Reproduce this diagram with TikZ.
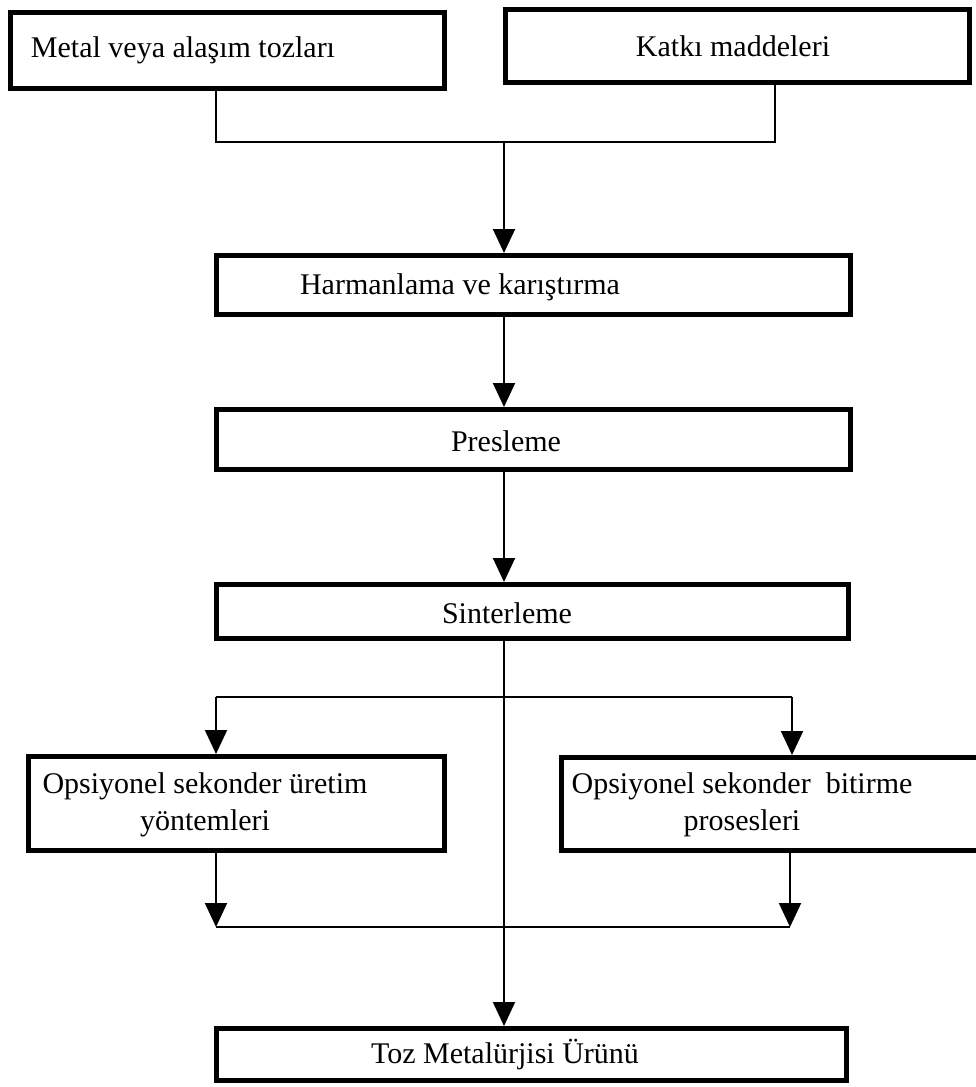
\documentclass[tikz,border=0pt]{standalone}
\usepackage{fontspec}
\setmainfont{Liberation Serif}
\usetikzlibrary{arrows.meta}
\begin{document}
\begin{tikzpicture}[x=1pt,y=-1pt,
  boxst/.style={draw=black,line width=5pt,inner sep=0pt,anchor=center},
  lbl/.style={font=\fontsize{30}{37}\selectfont,inner sep=0pt,align=center,anchor=center},
  conn/.style={draw=black,line width=2pt},
  arr/.style={conn,-{Triangle[width=22pt,length=24pt]}}]
\useasboundingbox (0,0) rectangle (976,1087);
% boxes
\node[boxst,minimum width=434pt,minimum height=76pt] (b1) at (227.5,50.5) {};
\node[boxst,minimum width=464pt,minimum height=73pt] (b2) at (737.5,46) {};
\node[boxst,minimum width=634pt,minimum height=59pt] (b3) at (533.5,285) {};
\node[boxst,minimum width=634pt,minimum height=60pt] (b4) at (533.5,439.5) {};
\node[boxst,minimum width=632pt,minimum height=54pt] (b5) at (532.5,611.5) {};
\node[boxst,minimum width=416pt,minimum height=94pt] (b6) at (236.5,803.5) {};
\node[boxst,minimum width=421pt,minimum height=93pt] (b7) at (772,804) {};
\node[boxst,minimum width=630pt,minimum height=52pt] (b8) at (531.5,1054.5) {};
% labels
\node[lbl] (t1) at (183,50) {Metal veya alaşım tozları};
\node[lbl] (t2) at (733,46) {Katkı maddeleri};
\node[lbl] (t3) at (460,287) {Harmanlama ve karıştırma};
\node[lbl] (t4) at (506,441) {Presleme};
\node[lbl] (t5) at (507,613) {Sinterleme};
\node[lbl] (t6) at (205,805) {Opsiyonel sekonder üretim\\yöntemleri};
\node[lbl] (t7) at (742,805) {Opsiyonel sekonder\ \ bitirme\\prosesleri};
\node[lbl] (t8) at (505,1055) {Toz Metalürjisi Ürünü};
% junction coordinates
\coordinate (m1l) at (216,142);
\coordinate (m1r) at (775,142);
\coordinate (m1) at (504,142);
\coordinate (s1l) at (216,697);
\coordinate (s1r) at (792,697);
\coordinate (m2l) at (216,927);
\coordinate (m2r) at (790,927);
% connectors
\draw[conn] (b1.south -| m1l) -- (m1l) -- (m1r) -- (b2.south -| m1r);
\draw[arr] (m1) -- (b3.north -| m1);
\draw[arr] (b3.south -| m1) -- (b4.north -| m1);
\draw[arr] (b4.south -| m1) -- (b5.north -| m1);
\draw[arr] (b5.south -| m1) -- (b8.north -| m1);
\draw[conn] (s1l) -- (s1r);
\draw[arr] (s1l) -- (b6.north -| s1l);
\draw[arr] (s1r) -- (b7.north -| s1r);
\draw[arr] (b6.south -| m2l) -- (m2l);
\draw[arr] (b7.south -| m2r) -- (m2r);
\draw[conn] (m2l) -- (m2r);
\end{tikzpicture}
\end{document}
